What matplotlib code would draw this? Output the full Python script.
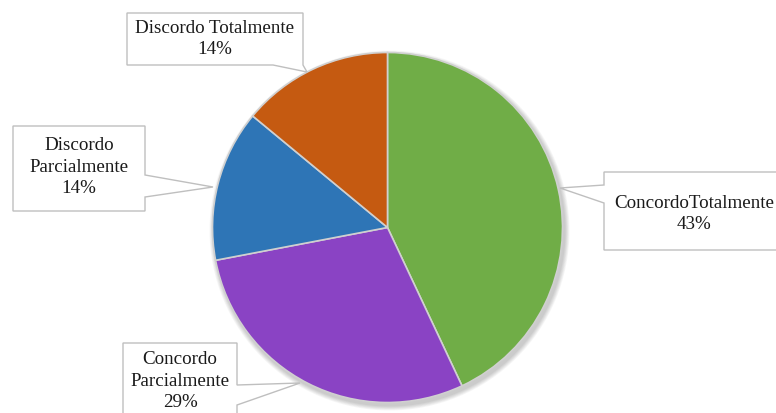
import matplotlib
matplotlib.use("Agg")
import matplotlib.pyplot as plt
from matplotlib.patches import Polygon, Circle

plt.rcParams["font.family"] = ["Liberation Serif", "DejaVu Serif"]

# data
labels = ["ConcordoTotalmente", "Concordo\nParcialmente", "Discordo\nParcialmente", "Discordo Totalmente"]
pcts = [43, 29, 14, 14]
colors = ["#70AD47", "#8A43C4", "#2E75B6", "#C55A11"]

W, H = 776, 413


def fy(y):
    # pixel row -> data y (origin at bottom)
    return H - y


fig = plt.figure(figsize=(W / 100, H / 100), dpi=100)
ax = fig.add_axes([0, 0, 1, 1])

cx, cy, r = 387.5, fy(227.5), 175

# soft shadow
for i in range(6):
    ax.add_patch(Circle((cx + 2, cy - 3), r + 1 + i * 0.8, color="black",
                        alpha=0.035, lw=0, zorder=1))

ax.pie(pcts, colors=colors, startangle=90, counterclock=False,
       center=(cx, cy), radius=r, frame=True,
       wedgeprops=dict(edgecolor="#D0D0D0", linewidth=1.2, zorder=2))
ax.set_xlim(0, W)
ax.set_ylim(0, H)
ax.set_aspect("equal")
ax.axis("off")

# callouts: box (x0, y0, x1, y1), pointer base pts on box edge, tip on pie, text center
callouts = [
    dict(box=(604, 172, 790, 250), side="left", base=(185, 203), tip=(560, 188), text=(694, 214)),
    dict(box=(123, 343, 237, 430), side="right", base=(385, 405), tip=(300, 383), text=(180, 381)),
    dict(box=(13, 126, 145, 211), side="right", base=(175, 197), tip=(213, 187), text=(79, 167)),
    dict(box=(127, 13, 303, 65), side="bottom", base=(273, 303), tip=(307, 72), text=(215, 39)),
]

for lab, p, c in zip(labels, pcts, callouts):
    x0, y0, x1, y1 = c["box"]
    b0, b1 = c["base"]
    tx, ty = c["tip"]
    if c["side"] == "left":
        pts = [(x0, y0), (x1, y0), (x1, y1), (x0, y1), (x0, b1), (tx, ty), (x0, b0)]
    elif c["side"] == "right":
        pts = [(x0, y0), (x1, y0), (x1, b0), (tx, ty), (x1, b1), (x1, y1), (x0, y1)]
    else:
        pts = [(x0, y0), (x1, y0), (x1, y1), (b1, y1), (tx, ty), (b0, y1), (x0, y1)]
    pts = [(x, fy(y)) for x, y in pts]
    ax.add_patch(Polygon(pts, closed=True, facecolor="white", edgecolor="#BFBFBF",
                         linewidth=1, zorder=3))
    ax.text(c["text"][0], fy(c["text"][1]), f"{lab}\n{p}%", ha="center", va="center",
            fontsize=13.7, color="#1A1A1A", linespacing=1.32, zorder=4)

fig.savefig("out.png", dpi=100)
